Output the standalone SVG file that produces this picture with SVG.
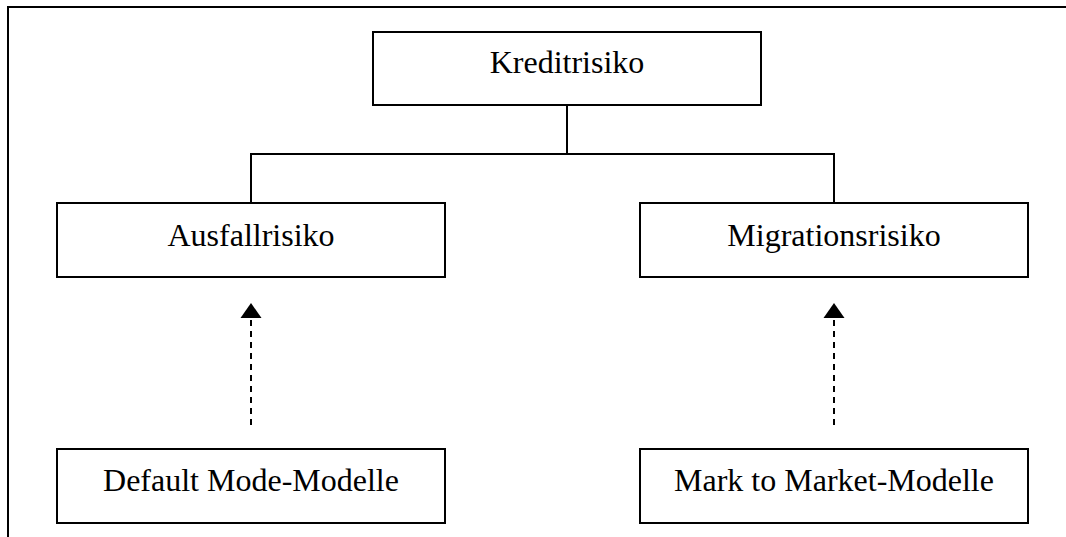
<svg xmlns="http://www.w3.org/2000/svg" width="1066" height="537" viewBox="0 0 1066 537">
<style>
.box{fill:#fff;stroke:#000;stroke-width:2}
.lbl{font-family:"Liberation Serif","Times New Roman",serif;font-size:32px;fill:#000;text-anchor:middle}
.ln{fill:none;stroke:#000;stroke-width:2}
.dash{fill:none;stroke:#000;stroke-width:2;stroke-dasharray:6 5}
</style>
<rect width="1066" height="537" fill="#fff"/>
<g id="frame">
<path class="ln" d="M8 537 V7 H1066"/>
</g>
<g id="connectors">
<path class="ln" d="M567 105 V154 M251 203 V154 H834 V203"/>
<path class="dash" d="M251 425 V318"/>
<polygon points="251,303 240.5,318 261.5,318" fill="#000"/>
<path class="dash" d="M834 425 V318"/>
<polygon points="834,303 823.5,318 844.5,318" fill="#000"/>
</g>
<g id="kreditrisiko">
<rect class="box" x="373" y="32" width="388" height="73"/>
<text class="lbl" x="567" y="73">Kreditrisiko</text>
</g>
<g id="ausfallrisiko">
<rect class="box" x="57" y="203" width="388" height="74"/>
<text class="lbl" x="251" y="246">Ausfallrisiko</text>
</g>
<g id="migrationsrisiko">
<rect class="box" x="640" y="203" width="388" height="74"/>
<text class="lbl" x="834" y="246">Migrationsrisiko</text>
</g>
<g id="default-mode">
<rect class="box" x="57" y="449" width="388" height="74"/>
<text class="lbl" x="251" y="491">Default Mode-Modelle</text>
</g>
<g id="mark-to-market">
<rect class="box" x="640" y="449" width="388" height="74"/>
<text class="lbl" x="834" y="491">Mark to Market-Modelle</text>
</g>
</svg>
